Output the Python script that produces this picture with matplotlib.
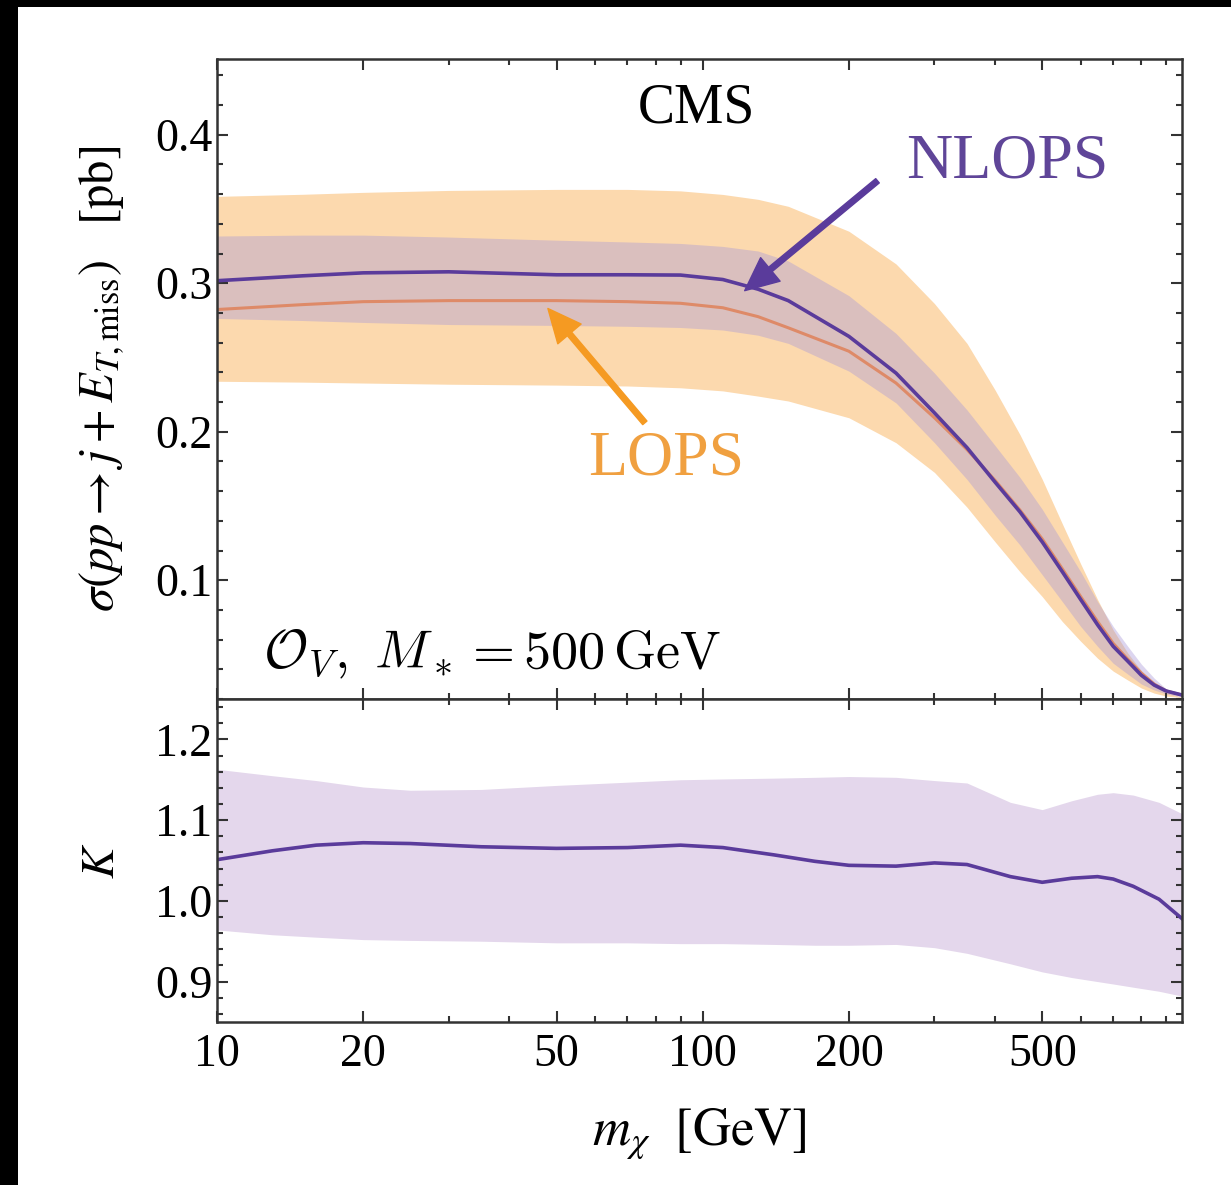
import numpy as np
import matplotlib
matplotlib.use("Agg")
import matplotlib.pyplot as plt
from matplotlib.patches import Rectangle
from matplotlib.ticker import FixedLocator, NullFormatter, MultipleLocator

plt.rcParams['font.family'] = 'serif'
plt.rcParams['font.serif'] = ['Liberation Serif', 'DejaVu Serif']
plt.rcParams['mathtext.fontset'] = 'stix'

# upper panel: cross section [pb] vs m_chi [GeV]
m_up = [10, 15, 20, 30, 50, 70, 90, 110, 130, 150, 200, 250, 300, 350, 400,
        450, 500, 550, 600, 650, 700, 750, 800, 850, 900, 970]
nlops = [0.3017, 0.305, 0.307, 0.3077, 0.3057, 0.3057, 0.3055, 0.3025, 0.296, 0.2883, 0.2642,
         0.2395, 0.2127, 0.1893, 0.166, 0.146, 0.1258, 0.1057, 0.087, 0.070, 0.0555,
         0.0455, 0.036, 0.0294, 0.0254, 0.0227]
nlops_lo = [0.2763, 0.2749, 0.2736, 0.2722, 0.2716, 0.271, 0.2702, 0.2685, 0.265, 0.2595, 0.2408,
            0.2194, 0.1926, 0.1679, 0.1438, 0.1237, 0.1037, 0.0856, 0.0689, 0.0555, 0.0441,
            0.0368, 0.0301, 0.0261, 0.0234, 0.0215]
nlops_hi = [0.3318, 0.3324, 0.3324, 0.3311, 0.329, 0.3278, 0.3268, 0.3248, 0.3217, 0.315, 0.2916,
            0.2662, 0.2395, 0.2147, 0.1906, 0.1692, 0.1478, 0.1258, 0.1057, 0.0856, 0.0689,
            0.0555, 0.0435, 0.0341, 0.0268, 0.0215]
lops = [0.2823, 0.2856, 0.2876, 0.2883, 0.2883, 0.2876, 0.2865, 0.2835, 0.2775, 0.270, 0.2542,
        0.2328, 0.2094, 0.188, 0.1672, 0.1472, 0.1278, 0.1077, 0.089, 0.0722, 0.0575,
        0.0468, 0.0375, 0.0301, 0.0254, 0.0227]
lops_lo = [0.234, 0.2334, 0.2328, 0.232, 0.2314, 0.2308, 0.2296, 0.2275, 0.224, 0.2207, 0.2094,
           0.1926, 0.1726, 0.1492, 0.1258, 0.1057, 0.089, 0.0722, 0.0589, 0.0475, 0.0388,
           0.0328, 0.0274, 0.024, 0.022, 0.021]
lops_hi = [0.3585, 0.3599, 0.3612, 0.3625, 0.3632, 0.3632, 0.3622, 0.3598, 0.3565, 0.3518, 0.335,
           0.313, 0.2863, 0.2595, 0.228, 0.198, 0.168, 0.138, 0.111, 0.0870, 0.0665,
           0.051, 0.039, 0.030, 0.025, 0.021]

# lower panel: K factor
m_k = [10, 13, 16, 20, 25, 35, 50, 70, 90, 110, 140, 170, 200, 250, 300, 350,
       430, 500, 575, 650, 700, 770, 870, 970]
k_fac = [1.051, 1.062, 1.069, 1.072, 1.071, 1.067, 1.065, 1.066, 1.069, 1.066, 1.057, 1.049,
         1.044, 1.043, 1.047, 1.045, 1.030, 1.023, 1.028, 1.030, 1.027, 1.018, 1.002, 0.978]
k_hi = [1.163, 1.155, 1.149, 1.141, 1.137, 1.138, 1.143, 1.147, 1.150, 1.151, 1.152, 1.153,
        1.154, 1.153, 1.149, 1.146, 1.122, 1.113, 1.124, 1.132, 1.134, 1.131, 1.122, 1.108]
k_lo = [0.964, 0.958, 0.955, 0.952, 0.951, 0.950, 0.948, 0.948, 0.947, 0.947, 0.946, 0.945,
        0.945, 0.946, 0.942, 0.935, 0.922, 0.912, 0.905, 0.900, 0.897, 0.893, 0.888, 0.882]

x_ticks = [10, 20, 50, 100, 200, 500]
minor_x = [30, 40, 60, 70, 80, 90, 300, 400, 600, 700, 800, 900]

c_nlo = '#5a3b9b'
c_lo = '#de8a68'
c_orange = '#f59a22'

fig = plt.figure(figsize=(12.31, 11.85), dpi=100, facecolor='black')
fig.patches.append(Rectangle((18/1231, 0), 1, 1 - 7/1185, transform=fig.transFigure,
                             facecolor='white', edgecolor='none', zorder=-1))

ax1 = fig.add_axes([0.1763, 0.4101, 0.7839, 0.5401])
ax2 = fig.add_axes([0.1763, 0.1376, 0.7839, 0.2725], sharex=ax1)

ax1.fill_between(m_up, lops_lo, lops_hi, color='#fcd9ae', lw=0)
ax1.fill_between(m_up, nlops_lo, nlops_hi, color='#a898d8', alpha=0.4, lw=0)
ax1.plot(m_up, lops, color=c_lo, lw=2.2)
ax1.plot(m_up, nlops, color=c_nlo, lw=2.6)

ax2.fill_between(m_k, k_lo, k_hi, color='#e4d7ec', lw=0)
ax2.plot(m_k, k_fac, color=c_nlo, lw=2.6)

ax1.set_xscale('log')
ax1.set_xlim(10, 970)
ax1.set_ylim(0.02, 0.451)
ax2.set_ylim(0.85, 1.25)

for ax in (ax1, ax2):
    ax.xaxis.set_major_locator(FixedLocator(x_ticks))
    ax.xaxis.set_minor_locator(FixedLocator(minor_x))
    ax.xaxis.set_minor_formatter(NullFormatter())
    ax.tick_params(which='both', direction='in', top=True, right=True, colors='#333333',
                   labelcolor='black', labelsize=33, width=1.5)
    ax.tick_params(which='major', length=8)
    ax.tick_params(which='minor', length=4)
    for s in ax.spines.values():
        s.set_linewidth(1.8)
        s.set_color('#333333')

ax1.set_yticks([0.1, 0.2, 0.3, 0.4])
ax1.yaxis.set_minor_locator(MultipleLocator(0.02))
ax1.tick_params(labelbottom=False)
ax2.set_yticks([0.9, 1.0, 1.1, 1.2])
ax2.set_yticklabels(['0.9', '1.0', '1.1', '1.2'])
ax2.yaxis.set_minor_locator(MultipleLocator(0.02))
ax2.set_xticklabels([str(t) for t in x_ticks])
ax2.tick_params(axis='x', pad=8)

ax1.set_ylabel(r'$\sigma(pp \to j + E_{T,\mathrm{miss}})\quad[\mathrm{pb}]$', fontsize=35, labelpad=20)
ax2.set_ylabel(r'$K$', fontsize=34, labelpad=22)
ax2.set_xlabel(r'$m_\chi\ \ [\mathrm{GeV}]$', fontsize=38, labelpad=22)

ax1.text(0.497, 0.922, 'CMS', transform=ax1.transAxes, ha='center', va='center', fontsize=40)
ax1.text(424, 0.3815, 'NLOPS', ha='center', va='center', fontsize=46, color='#5f4598')
ax1.text(84, 0.1815, 'LOPS', ha='center', va='center', fontsize=46, color='#f0a040')
ax1.text(0.048, 0.07, r'$\mathcal{O}_V,\ M_* = 500\,\mathrm{GeV}$', transform=ax1.transAxes,
         ha='left', va='center', fontsize=39, math_fontfamily='cm')

ax1.annotate('', xy=(122, 0.295), xytext=(229, 0.369),
             arrowprops=dict(facecolor=c_nlo, edgecolor=c_nlo, width=4, headwidth=22,
                             headlength=24, shrink=0))
ax1.annotate('', xy=(48, 0.283), xytext=(76, 0.206),
             arrowprops=dict(facecolor=c_orange, edgecolor=c_orange, width=4, headwidth=22,
                             headlength=24, shrink=0))

fig.savefig('out.png', dpi=100, facecolor=fig.get_facecolor())
